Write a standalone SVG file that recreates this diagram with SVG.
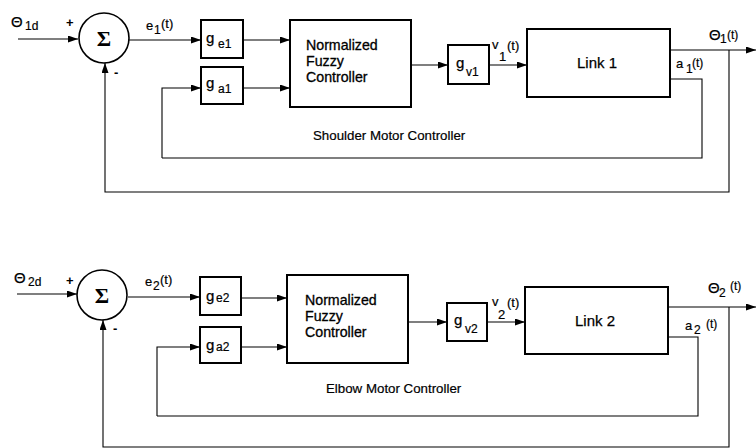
<svg xmlns="http://www.w3.org/2000/svg" width="756" height="448" viewBox="0 0 756 448">
<style>
.box{fill:#fff;stroke:#000;stroke-width:2}
.ln{fill:none;stroke:#000;stroke-width:1.1}
.t{font-family:"Liberation Sans",Arial,sans-serif;font-size:15px;fill:#000;stroke:#000;stroke-width:0.25}
.nfc{font-family:"Liberation Sans",Arial,sans-serif;font-size:14.2px;fill:#000;stroke:#000;stroke-width:0.3}
.lk{font-family:"Liberation Sans",Arial,sans-serif;font-size:15px;fill:#000;stroke:#000;stroke-width:0.25}
.s{font-size:12px;stroke-width:0.2}
.sig{font-family:"Liberation Serif","Times New Roman",serif;font-size:22px;font-weight:bold;fill:#000}
.lab{font-family:"Liberation Sans",Arial,sans-serif;font-size:13px;fill:#000;stroke:#000;stroke-width:0.2}
.cap{font-family:"Liberation Sans",Arial,sans-serif;font-size:13.3px;fill:#000;stroke:#000;stroke-width:0.2}
.pm{font-family:"Liberation Sans",Arial,sans-serif;font-size:13px;font-weight:bold;fill:#000}
</style>
<defs>
<marker id="ar" markerUnits="userSpaceOnUse" markerWidth="11" markerHeight="8" refX="10" refY="3.5" orient="auto">
<path d="M0,0 L10,3.5 L0,7 z" fill="#000"/>
</marker>
</defs>

<g id="connectors">
<!-- top -->
<line class="ln" x1="18" y1="39" x2="78" y2="39" marker-end="url(#ar)"/>
<line class="ln" x1="129" y1="40" x2="201" y2="40" marker-end="url(#ar)"/>
<line class="ln" x1="243" y1="40" x2="290" y2="40" marker-end="url(#ar)"/>
<polyline class="ln" points="162,158 162,88 201,88" marker-end="url(#ar)"/>
<line class="ln" x1="243" y1="88" x2="290" y2="88" marker-end="url(#ar)"/>
<line class="ln" x1="411" y1="65" x2="448" y2="65" marker-end="url(#ar)"/>
<line class="ln" x1="489" y1="65" x2="527" y2="65" marker-end="url(#ar)"/>
<polyline class="ln" points="670,79 702,79 702,158 162,158"/>
<line class="ln" x1="670" y1="50" x2="756" y2="50" marker-end="url(#ar)"/>
<polyline class="ln" points="729,50 729,192 105,192 105,63" marker-end="url(#ar)"/>
<!-- bottom -->
<line class="ln" x1="17" y1="294" x2="77" y2="294" marker-end="url(#ar)"/>
<line class="ln" x1="128" y1="297" x2="200" y2="297" marker-end="url(#ar)"/>
<line class="ln" x1="241" y1="298" x2="287" y2="298" marker-end="url(#ar)"/>
<polyline class="ln" points="157,416 157,347 200,347" marker-end="url(#ar)"/>
<line class="ln" x1="241" y1="347" x2="287" y2="347" marker-end="url(#ar)"/>
<line class="ln" x1="408" y1="322" x2="447" y2="322" marker-end="url(#ar)"/>
<line class="ln" x1="487" y1="322" x2="525" y2="322" marker-end="url(#ar)"/>
<polyline class="ln" points="668,337 698,337 698,416 157,416"/>
<line class="ln" x1="668" y1="307" x2="756" y2="307" marker-end="url(#ar)"/>
<polyline class="ln" points="729,307 729,447 103,447 103,320" marker-end="url(#ar)"/>
</g>

<g id="sum1">
<circle cx="104" cy="38" r="25" fill="#fff" stroke="#000" stroke-width="1.6"/>
<text class="sig" x="104" y="46" text-anchor="middle">Σ</text>
</g>
<g id="ge1"><rect class="box" x="201" y="20" width="42" height="38"/><text class="t" x="206" y="43">g<tspan class="s" x="218" dy="5">e1</tspan></text></g>
<g id="ga1"><rect class="box" x="201" y="67" width="42" height="37"/><text class="t" x="206" y="88">g<tspan class="s" x="218" dy="5">a1</tspan></text></g>
<g id="nfc1"><rect class="box" x="290" y="20" width="121" height="87"/>
<text class="nfc" x="306" y="50">Normalized</text><text class="nfc" x="306" y="66">Fuzzy</text><text class="nfc" x="306" y="82">Controller</text></g>
<g id="gv1"><rect class="box" x="448" y="45" width="41" height="39"/><text class="t" x="456" y="68">g<tspan class="s" x="466" dy="8">v1</tspan></text></g>
<g id="link1"><rect class="box" x="527" y="29" width="143" height="68"/><text class="lk" x="597" y="68" text-anchor="middle">Link  1</text></g>

<g id="sum2">
<circle cx="102" cy="295" r="25" fill="#fff" stroke="#000" stroke-width="1.6"/>
<text class="sig" x="102" y="303" text-anchor="middle">Σ</text>
</g>
<g id="ge2"><rect class="box" x="200" y="277" width="41" height="38"/><text class="t" x="206" y="301">g<tspan class="s" x="216" dy="1">e2</tspan></text></g>
<g id="ga2"><rect class="box" x="200" y="327" width="41" height="36"/><text class="t" x="206" y="350">g<tspan class="s" x="216" dy="1">a2</tspan></text></g>
<g id="nfc2"><rect class="box" x="287" y="275" width="121" height="88"/>
<text class="nfc" x="305" y="305">Normalized</text><text class="nfc" x="305" y="321">Fuzzy</text><text class="nfc" x="305" y="337">Controller</text></g>
<g id="gv2"><rect class="box" x="447" y="303" width="40" height="38"/><text class="t" x="454" y="325">g<tspan class="s" x="465" dy="8">v2</tspan></text></g>
<g id="link2"><rect class="box" x="525" y="287" width="143" height="67"/><text class="lk" x="595" y="326" text-anchor="middle">Link  2</text></g>

<g id="labels">
<text class="t" x="11" y="27">Θ<tspan class="s" x="25" dy="3">1d</tspan></text>
<text class="pm" x="66" y="27">+</text>
<text class="pm" x="114" y="77">-</text>
<text class="lab" x="146" y="30">e<tspan class="s" x="154" dy="4">1</tspan><tspan x="161" dy="-6">(t)</tspan></text>
<text class="lab" x="492" y="49">v</text><text class="lab" x="499" y="61">1</text><text class="lab" x="507" y="50">(t)</text>
<text class="t" x="709" y="40">Θ<tspan class="s" x="720" dy="3">1</tspan><tspan class="s" x="727" dy="-4">(t)</tspan></text>
<text class="lab" x="676" y="68">a<tspan class="s" x="686" dy="5">1</tspan><tspan class="s" x="692" dy="-6">(t)</tspan></text>
<text class="cap" x="313" y="140">Shoulder Motor Controller</text>

<text class="t" x="14" y="283">Θ<tspan class="s" x="28" dy="3">2d</tspan></text>
<text class="pm" x="66" y="285">+</text>
<text class="pm" x="113" y="333">-</text>
<text class="lab" x="145" y="286">e<tspan class="s" x="153" dy="4">2</tspan><tspan x="160" dy="-6">(t)</tspan></text>
<text class="lab" x="492" y="306">v</text><text class="lab" x="498" y="319">2</text><text class="lab" x="507" y="307">(t)</text>
<text class="t" x="708" y="293">Θ<tspan class="s" x="719" dy="4">2</tspan><tspan class="s" x="730" dy="-7">(t)</tspan></text>
<text class="lab" x="685" y="330">a<tspan class="s" x="694" dy="4">2</tspan><tspan class="s" x="706" dy="-6">(t)</tspan></text>
<text class="cap" x="326" y="393">Elbow Motor Controller</text>
</g>
</svg>
